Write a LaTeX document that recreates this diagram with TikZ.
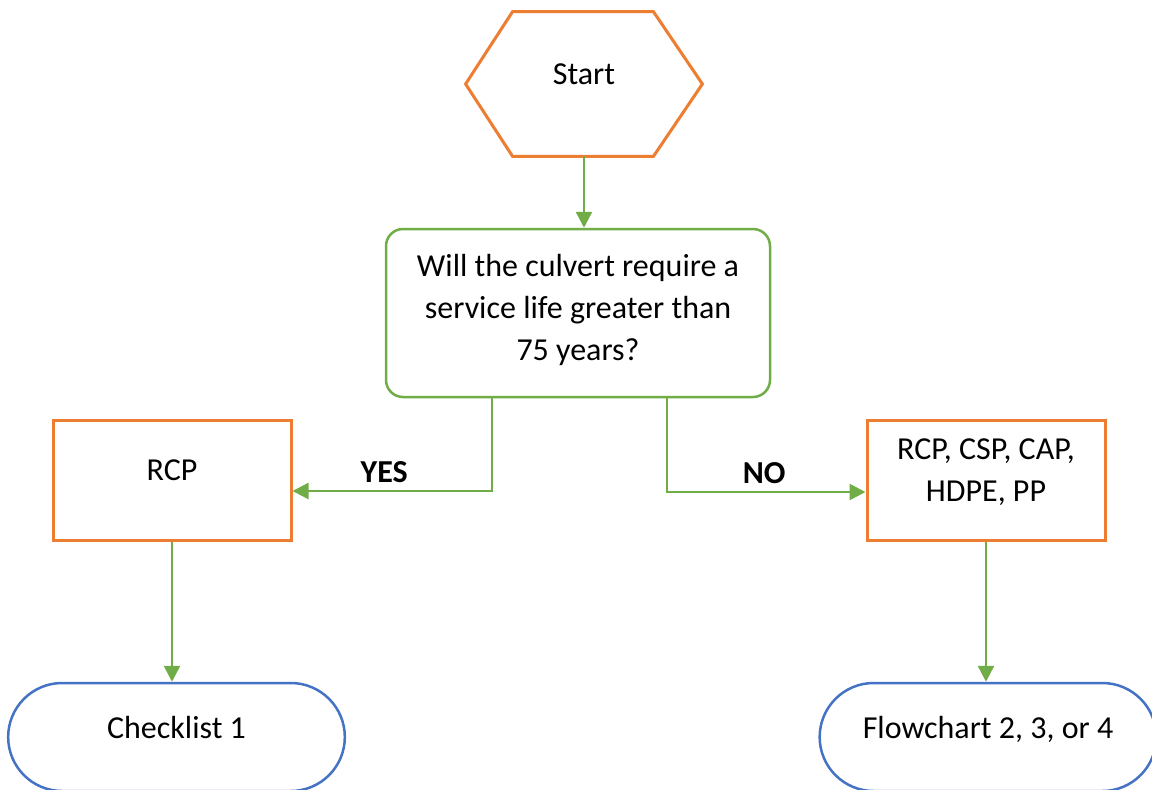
\documentclass[tikz,border=0pt]{standalone}
\usepackage{fontspec}
\setmainfont{Carlito}
\usetikzlibrary{shapes.misc,arrows.meta,calc}
\definecolor{fcorange}{HTML}{ED7D31}
\definecolor{fcgreen}{HTML}{70AD47}
\definecolor{fcblue}{HTML}{4472C4}
\begin{document}
\begin{tikzpicture}[x=0.5pt,y=-0.5pt,
  txt/.style={font=\fontsize{16pt}{21pt}\selectfont,align=center,
    execute at end node={\rule[-#1]{0pt}{0pt}}},
  txt/.default=10pt,
  startbox/.style={txt,minimum width=118pt,minimum height=72pt},
  hexline/.style={draw=fcorange,line width=1.5pt,line join=miter},
  quest/.style={txt=6pt,draw=fcgreen,line width=1.25pt,rounded corners=8.5pt,
    minimum width=192pt,minimum height=84pt},
  outbox/.style={txt,draw=fcorange,line width=1.5pt,
    minimum width=119pt,minimum height=60pt},
  endbox/.style={txt,rounded rectangle,draw=fcblue,line width=1.25pt,
    minimum width=175pt,minimum height=54pt},
  conn/.style={draw=fcgreen,line width=1.25pt,-{Triangle[length=8pt,width=8pt]}},
  lbl/.style={font=\fontsize{16pt}{21pt}\selectfont\bfseries}]
  \useasboundingbox (0,0) rectangle (1152,789);
  % Start (Sechseck)
  \node[startbox] (start) at (584,84) {Start};
  \draw[hexline] (start.west) -- ($(start.north west)+(47,0)$)
    -- ($(start.north east)+(-49,0)$) -- (start.east)
    -- ($(start.south east)+(-49,0)$) -- ($(start.south west)+(47,0)$) -- cycle;
  % Frage
  \node[quest] (quest) at (578,313) {Will the culvert require a\\service life greater than\\75 years?};
  % Ergebnisse
  \node[outbox] (rcp) at (172,480) {RCP};
  \node[outbox] (mats) at (986,480) {RCP, CSP, CAP,\\HDPE, PP};
  % Enden
  \node[endbox] (check) at (176.5,737) {Checklist 1};
  \node[endbox] (flow) at (988,737) {Flowchart 2, 3, or 4};
  % Verbindungen
  \draw[conn] (start.south) -- (start.south |- quest.north);
  \draw[conn] ($(quest.south)+(-86,0)$) |- ($(rcp.east)+(0,11)$)
    node[lbl,pos=0.77,above] {YES};
  \draw[conn] ($(quest.south)+(89,0)$) |- ($(mats.west)+(0,12)$)
    node[lbl,pos=0.745,above] {NO};
  \draw[conn] (rcp.south) -- (rcp.south |- check.north);
  \draw[conn] (mats.south) -- (mats.south |- flow.north);
\end{tikzpicture}
\end{document}
